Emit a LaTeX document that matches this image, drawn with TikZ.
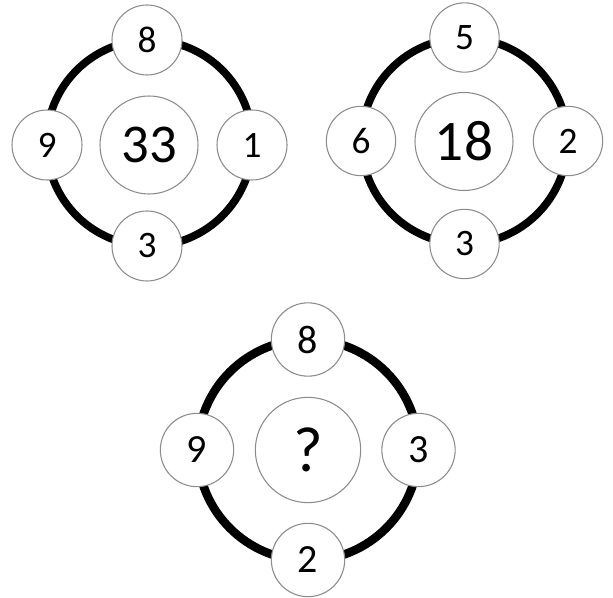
\documentclass[tikz,border=0pt]{standalone}
\usepackage{fontspec}
\setmainfont{Carlito}
\begin{document}
\begin{tikzpicture}[x=0.75pt,y=-0.75pt,
  ring/.style={draw=black,line width=#1},
  small/.style={circle,draw=gray!90,line width=0.8pt,fill=white,inner sep=0pt,minimum size=#1},
  center/.style={circle,draw=gray!90,line width=0.8pt,fill=white,inner sep=0pt,minimum size=#1}]
\useasboundingbox (0,0) rectangle (613,598);
% group 1
\draw[ring=5.8pt] (149.5,143) circle[radius=103];
\node[center=73.5pt,font=\fontsize{41}{41}\selectfont] (c1) at (149,145) {33};
\node[small=52.5pt,font=\fontsize{28}{28}\selectfont] (t1) at (147,40) {8};
\node[small=52.5pt,font=\fontsize{28}{28}\selectfont] (l1) at (47,145) {9};
\node[small=52.5pt,font=\fontsize{28}{28}\selectfont] (r1) at (252,145) {1};
\node[small=52.5pt,font=\fontsize{28}{28}\selectfont] (b1) at (147,246) {3};
% group 2
\draw[ring=5.8pt] (464.5,141) circle[radius=103];
\node[center=73.5pt,font=\fontsize{43}{43}\selectfont] (c2) at (464,141.5) {18};
\node[small=52pt,font=\fontsize{28}{28}\selectfont] (t2) at (464.5,37.5) {5};
\node[small=52pt,font=\fontsize{28}{28}\selectfont] (l2) at (361,141) {6};
\node[small=52pt,font=\fontsize{28}{28}\selectfont] (r2) at (568,141) {2};
\node[small=52pt,font=\fontsize{28}{28}\selectfont] (b2) at (464.5,244) {3};
% group 3
\draw[ring=6.4pt] (308,450) circle[radius=110.5];
\node[center=79pt,font=\fontsize{48}{48}\selectfont] (c3) at (308,450) {?};
\node[small=55pt,font=\fontsize{30}{30}\selectfont] (t3) at (308,339.5) {8};
\node[small=55pt,font=\fontsize{30}{30}\selectfont] (l3) at (197,450) {9};
\node[small=55pt,font=\fontsize{30}{30}\selectfont] (r3) at (418.5,450) {3};
\node[small=55pt,font=\fontsize{30}{30}\selectfont] (b3) at (308,560) {2};
\end{tikzpicture}
\end{document}
